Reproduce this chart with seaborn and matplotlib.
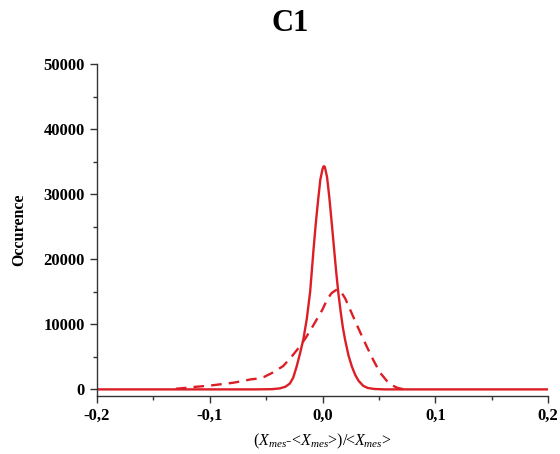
import matplotlib
matplotlib.use("Agg")
import matplotlib.pyplot as plt
import matplotlib.ticker as mticker
import seaborn as sns

# solid curve (narrow distribution)
solid_x = [-0.2, -0.06, -0.045, -0.038, -0.033, -0.029, -0.026, -0.023, -0.020, -0.017,
           -0.014, -0.011, -0.008, -0.006, -0.004, -0.002, 0.0, 0.001, 0.002, 0.004,
           0.006, 0.008, 0.010, 0.012, 0.014, 0.016, 0.018, 0.020, 0.023, 0.026,
           0.029, 0.032, 0.036, 0.040, 0.046, 0.055, 0.2]
solid_y = [0, 0, 30, 150, 400, 900, 1800, 3500, 5500, 7700,
           10800, 15000, 21500, 25500, 29000, 32200, 33900, 34300, 34200, 32600,
           29500, 25800, 22000, 18200, 14800, 12000, 9500, 7600, 5200, 3500,
           2200, 1300, 550, 220, 60, 0, 0]

# dashed curve (wider, skewed distribution)
dashed_x = [-0.13, -0.12, -0.112, -0.1, -0.091, -0.08, -0.07, -0.064, -0.058, -0.052,
            -0.045, -0.035, -0.028, -0.020, -0.015, -0.010, -0.005, 0.0, 0.004, 0.008,
            0.0127, 0.016, 0.020, 0.027, 0.033, 0.039, 0.045, 0.051, 0.057, 0.062,
            0.066, 0.070, 0.075]
dashed_y = [100, 250, 400, 580, 770, 1000, 1300, 1530, 1650, 1900,
            2500, 3570, 4900, 6640, 7900, 9300, 10800, 12300, 13800, 14800,
            15350, 15100, 14000, 11240, 8900, 6640, 4500, 2560, 1300, 600,
            260, 80, 0]

x_ticks = [-0.2, -0.1, 0.0, 0.1, 0.2]
x_tick_labels = ["-0,2", "-0,1", "0,0", "0,1", "0,2"]
y_ticks = [0, 10000, 20000, 30000, 40000, 50000]

sns.set_style("ticks")
plt.rcParams["font.family"] = ["Liberation Serif", "DejaVu Serif"]
plt.rcParams["mathtext.fontset"] = "custom"
plt.rcParams["mathtext.rm"] = "Liberation Serif"
plt.rcParams["mathtext.it"] = "Liberation Serif:italic"
plt.rcParams["text.color"] = "black"
plt.rcParams["axes.labelcolor"] = "black"
plt.rcParams["xtick.color"] = "black"
plt.rcParams["ytick.color"] = "black"

red = "#dc1f26"

fig = plt.figure(figsize=(5.6, 4.54), dpi=100)
ax = fig.add_axes([0.173, 0.128, 0.806, 0.731])

sns.lineplot(x=solid_x, y=solid_y, color=red, linewidth=1.7, ax=ax)
sns.lineplot(x=dashed_x, y=dashed_y, color=red, linewidth=1.7, linestyle=(0, (4.5, 3)), ax=ax)

ax.set_xlim(-0.2, 0.2)
ax.set_ylim(-1000, 50000)
ax.set_xticks(x_ticks)
ax.set_xticklabels(x_tick_labels)
ax.set_yticks(y_ticks)
ax.xaxis.set_minor_locator(mticker.MultipleLocator(0.05))
ax.yaxis.set_minor_locator(mticker.MultipleLocator(5000))

for lab in ax.get_xticklabels() + ax.get_yticklabels():
    lab.set_fontweight("bold")
    lab.set_fontsize(12)

ax.tick_params(which="major", direction="out", length=5, width=1, color="#333333")
ax.tick_params(which="minor", direction="out", length=3, width=1, color="#333333")
for side in ["top", "right"]:
    ax.spines[side].set_visible(False)
for side in ["left", "bottom"]:
    ax.spines[side].set_color("#333333")
    ax.spines[side].set_linewidth(1)

ax.set_ylabel("Occurence", fontsize=11.5, fontweight="bold", labelpad=12)
ax.set_xlabel(r"$(X_{mes}$-<$X_{mes}$>)/<$X_{mes}$>", fontsize=11.5, labelpad=6)

fig.text(0.518, 0.949, "C1", fontsize=22, fontweight="bold", ha="center", va="center")

fig.savefig("out.png", dpi=100)
